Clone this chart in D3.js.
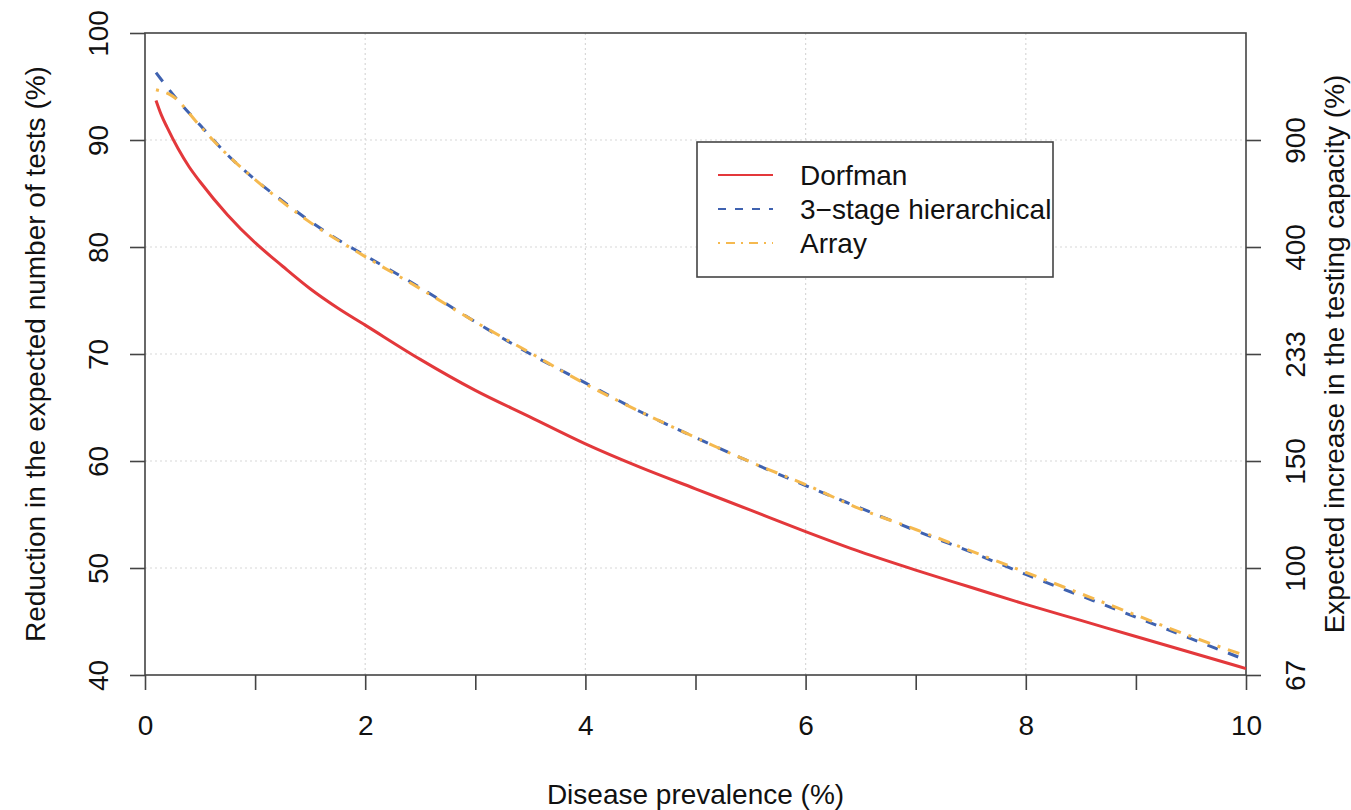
<!DOCTYPE html>
<html>
<head>
<meta charset="utf-8">
<script src="https://cdn.jsdelivr.net/npm/d3@7"></script>
<style>
  body { margin: 0; background: #fff; }
  text { font-family: "Liberation Sans", Arial, sans-serif; fill: #111; }
</style>
</head>
<body>
<div id="chart"></div>
<script>
// prevalence (%) and reduction in expected number of tests (%)
const dorfmanX = [0.1, 0.15, 0.2, 0.3, 0.4, 0.5, 0.75, 1, 1.25, 1.5, 1.75, 2, 2.5, 3, 3.5, 4, 4.5, 5, 5.5, 6, 6.5, 7, 7.5, 8, 8.5, 9, 9.5, 10];
const dorfmanY = [93.7, 92.3, 91.2, 89.2, 87.5, 86.1, 83.0, 80.4, 78.2, 76.1, 74.3, 72.7, 69.5, 66.6, 64.1, 61.6, 59.4, 57.4, 55.4, 53.4, 51.5, 49.8, 48.2, 46.6, 45.1, 43.6, 42.1, 40.6];

const hierX = [0.1, 0.25, 0.5, 0.75, 1, 1.25, 1.5, 1.75, 2, 2.5, 3, 3.5, 4, 4.5, 5, 5.5, 6, 6.5, 7, 7.5, 8, 8.5, 9, 9.5, 10];
const hierY = [96.3, 94.3, 91.4, 88.6, 86.3, 84.3, 82.4, 80.7, 79.2, 76.2, 73.0, 70.0, 67.3, 64.6, 62.2, 59.9, 57.7, 55.6, 53.5, 51.5, 49.4, 47.4, 45.4, 43.4, 41.4];

const arrayX = [0.1, 0.25, 0.5, 0.75, 1, 1.5, 2, 2.5, 3, 3.5, 4, 4.5, 5, 5.5, 6, 6.5, 7, 7.5, 8, 8.5, 9, 9.5, 10];
const arrayY = [94.7, 94.1, 91.3, 88.6, 86.3, 82.3, 79.1, 76.1, 73.0, 70.1, 67.2, 64.6, 62.2, 59.9, 57.8, 55.5, 53.6, 51.6, 49.6, 47.6, 45.6, 43.6, 41.8];

const xTicks = [0, 1, 2, 3, 4, 5, 6, 7, 8, 9, 10];
const yTicks = [40, 50, 60, 70, 80, 90, 100];
const rightTicks = [40, 50, 60, 70, 80, 90];
const rightLabels = ["67", "100", "150", "233", "400", "900"];
const seriesNames = ["Dorfman", "3\u2212stage hierarchical", "Array"];

const width = 1351, height = 810;
const margin = {left: 145, right: 105, top: 33, bottom: 135};
const fs = 28;

const svg = d3.select('#chart').append('svg')
    .attr('width', width)
    .attr('height', height);

const x = d3.scaleLinear().domain([0, 10]).range([margin.left, width - margin.right]);
const y = d3.scaleLinear().domain([40, 100]).range([height - margin.bottom, margin.top]);

// grid
svg.append('g').selectAll('line')
    .data([2, 4, 6, 8])
    .enter().append('line')
    .attr('x1', d => x(d)).attr('x2', d => x(d))
    .attr('y1', y(40)).attr('y2', y(100))
    .attr('stroke', '#d8d8d8').attr('stroke-width', 1.2)
    .attr('stroke-dasharray', '2,3');
svg.append('g').selectAll('line')
    .data([50, 60, 70, 80, 90])
    .enter().append('line')
    .attr('x1', x(0)).attr('x2', x(10))
    .attr('y1', d => y(d)).attr('y2', d => y(d))
    .attr('stroke', '#d8d8d8').attr('stroke-width', 1.2)
    .attr('stroke-dasharray', '2,3');

const axisColor = '#444';

function styleAxis(g) {
    g.select('.domain').remove();
    g.selectAll('.tick line').attr('stroke', axisColor).attr('stroke-width', 1.6);
    g.selectAll('text').style('font-size', fs + 'px').attr('fill', '#111');
}

// bottom axis
const gx = svg.append('g')
    .attr('transform', `translate(0,${y(40)})`)
    .call(d3.axisBottom(x).tickValues(xTicks).tickSize(15).tickSizeOuter(0)
        .tickFormat(d => d % 2 === 0 ? d : ''));
styleAxis(gx);
gx.selectAll('text').attr('y', 0).attr('dy', 0)
    .attr('transform', 'translate(0,60)');

// left axis
const gy = svg.append('g')
    .attr('transform', `translate(${x(0)},0)`)
    .call(d3.axisLeft(y).tickValues(yTicks).tickSize(15).tickSizeOuter(0));
styleAxis(gy);
gy.selectAll('text').attr('x', 0).attr('y', 0).attr('dy', 0)
    .attr('text-anchor', 'middle')
    .attr('transform', 'translate(-37,0) rotate(-90)');

// right axis
const gr = svg.append('g')
    .attr('transform', `translate(${x(10)},0)`)
    .call(d3.axisRight(y).tickValues(rightTicks).tickSize(15).tickSizeOuter(0)
        .tickFormat((d, i) => rightLabels[i]));
styleAxis(gr);
gr.selectAll('text').attr('x', 0).attr('y', 0).attr('dy', 0)
    .attr('text-anchor', 'middle')
    .attr('transform', 'translate(59,0) rotate(-90)');

// box
svg.append('rect')
    .attr('x', x(0)).attr('y', y(100))
    .attr('width', x(10) - x(0)).attr('height', y(40) - y(100))
    .attr('fill', 'none').attr('stroke', axisColor).attr('stroke-width', 1.6);

// lines
const line = d3.line().curve(d3.curveMonotoneX)
    .x(d => x(d[0])).y(d => y(d[1]));

const series = [
    {name: seriesNames[0], pts: d3.zip(dorfmanX, dorfmanY), color: '#e3383b', dash: null, legDash: null},
    {name: seriesNames[1], pts: d3.zip(hierX, hierY), color: '#3f62b0', dash: '11,11', legDash: '8,9'},
    {name: seriesNames[2], pts: d3.zip(arrayX, arrayY), color: '#f5b94f', dash: '3,8,12,8', legDash: '2,6,9,6'}
];

svg.append('g').selectAll('path')
    .data(series)
    .enter().append('path')
    .attr('d', d => line(d.pts))
    .attr('fill', 'none')
    .attr('stroke', d => d.color)
    .attr('stroke-width', 3)
    .attr('stroke-dasharray', d => d.dash);

// legend
const lg = svg.append('g');
lg.append('rect')
    .attr('x', 697).attr('y', 142)
    .attr('width', 356).attr('height', 135)
    .attr('fill', '#fff').attr('stroke', axisColor).attr('stroke-width', 1.6);
const rows = lg.selectAll('g.row')
    .data(series)
    .enter().append('g')
    .attr('class', 'row')
    .attr('transform', (d, i) => `translate(0,${175 + i * 34})`);
rows.append('line')
    .attr('x1', 718).attr('x2', 773)
    .attr('y1', 0).attr('y2', 0)
    .attr('stroke', d => d.color)
    .attr('stroke-width', 2)
    .attr('stroke-dasharray', d => d.legDash);
rows.append('text')
    .attr('x', 800).attr('y', 0).attr('dy', '0.35em')
    .style('font-size', fs + 'px')
    .text(d => d.name);

// axis titles
svg.append('text')
    .attr('x', (x(0) + x(10)) / 2).attr('y', 804)
    .attr('text-anchor', 'middle')
    .style('font-size', fs + 'px')
    .text('Disease prevalence (%)');

svg.append('text')
    .attr('transform', `translate(45,${(y(40) + y(100)) / 2}) rotate(-90)`)
    .attr('text-anchor', 'middle')
    .style('font-size', fs + 'px')
    .text('Reduction in the expected number of tests (%)');

svg.append('text')
    .attr('transform', `translate(1344,${(y(40) + y(100)) / 2}) rotate(-90)`)
    .attr('text-anchor', 'middle')
    .style('font-size', fs + 'px')
    .text('Expected increase in the testing capacity (%)');
</script>
</body>
</html>
